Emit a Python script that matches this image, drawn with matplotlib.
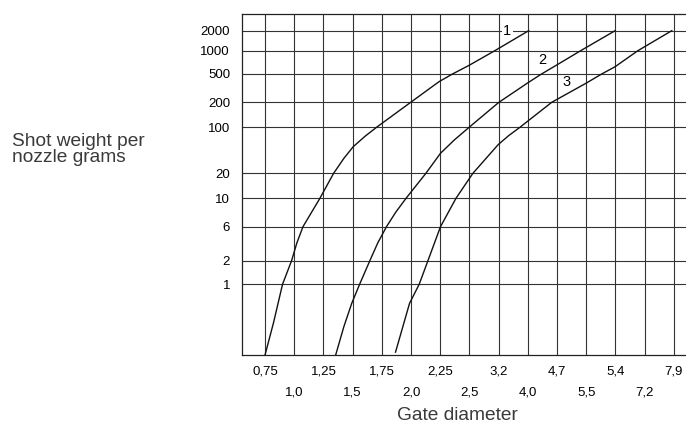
import numpy as np
import matplotlib
matplotlib.use("Agg")
import matplotlib.pyplot as plt
from matplotlib.ticker import FixedLocator, NullLocator

# ============================================================
# Datos
# ============================================================

# Diametro de compuerta (etiquetas del eje x, en orden de las columnas)
etiquetas_x = ["0,75", "1,0", "1,25", "1,5", "1,75", "2,0", "2,25", "2,5",
               "3,2", "4,0", "4,7", "5,5", "5,4", "7,2", "7,9"]

# Peso por boquilla (lineas horizontales)
valores_y = [1, 2, 6, 10, 20, 100, 200, 500, 1000, 2000]

# Curvas: posicion en la escala de diametro (columna) y gramos
curva1_x = [0.00, 0.29, 0.60, 0.91, 1.09, 1.30, 1.88, 2.35, 2.70, 3.02,
            3.43, 3.82, 4.99, 5.96, 6.42, 6.98, 7.87, 9.03]
curva1_y = [0.124, 0.32, 1, 2, 3.54, 6, 10, 20, 33.7, 50.7,
            73.3, 100, 200, 390, 500, 644, 1000, 2000]

curva2_x = [2.42, 2.70, 2.97, 3.24, 3.59, 3.86, 4.16, 4.48, 4.83, 5.51,
            6.01, 6.48, 6.99, 8.01, 9.01, 9.47, 9.99, 10.81, 11.99]
curva2_y = [0.124, 0.286, 0.57, 1, 2, 3.54, 6, 7.8, 10, 20,
            40.3, 64, 100, 200, 378, 500, 653, 1000, 2000]

curva3_x = [4.47, 4.95, 5.28, 5.58, 6.01, 6.54, 7.12, 7.99, 8.35, 8.73,
            9.82, 10.99, 11.53, 11.99, 12.77, 13.93]
curva3_y = [0.135, 0.57, 1, 2, 6, 10, 20, 54.8, 75, 100,
            200, 370, 500, 621, 1000, 2000]

# ============================================================
# Escala del eje y: el original es "casi" logaritmico,
# dibujado a mano, asi que se usa una escala por tramos
# ============================================================

log_nodos = np.log10([0.1, 1, 2, 6, 10, 20, 100, 200, 500, 1000, 2000, 10000])
altura_nodos = np.array([-7.3, 70.7, 94.3, 128.3, 156.7, 181.7, 227.7, 252.7, 281.0, 304.3, 324.3, 373.0])


def adelante(v):
    v = np.clip(np.asarray(v, dtype=float), 1e-3, None)
    return np.interp(np.log10(v), log_nodos, altura_nodos)


def inversa(h):
    return 10 ** np.interp(np.asarray(h, dtype=float), altura_nodos, log_nodos)


# ============================================================
# Grafico
# ============================================================

plt.rcParams["font.family"] = ["Liberation Sans", "DejaVu Sans"]

fig = plt.figure(figsize=(6.86, 4.32), dpi=100)
ax = fig.add_axes([242 / 686, 77 / 432, 444 / 686, 341 / 432])

ax.set_yscale("function", functions=(adelante, inversa))
ax.set_ylim(inversa(0), inversa(341))
ax.set_xlim(-0.788, 14.418)

for xs, ys in [(curva1_x, curva1_y), (curva2_x, curva2_y), (curva3_x, curva3_y)]:
    ax.plot(xs, ys, color="#111111", linewidth=1.0, zorder=3,
            solid_joinstyle="round")

# numeros de las curvas
caja = dict(facecolor="white", edgecolor="none", pad=1.0)
ax.text(8.29, 2000, "1", fontsize=10.5, ha="center", va="center", bbox=caja, zorder=4)
ax.text(9.50, 752, "2", fontsize=10.5, ha="center", va="center", zorder=4)
ax.text(10.31, 390, "3", fontsize=10.5, ha="center", va="center", zorder=4)

# ticks y
ax.yaxis.set_major_locator(FixedLocator(valores_y))
ax.yaxis.set_minor_locator(NullLocator())
ax.set_yticklabels([str(v) for v in valores_y])
ax.tick_params(axis="y", length=0, pad=8.6, labelsize=9.5)

# ticks x en dos filas: pares arriba, impares abajo
posiciones = np.arange(len(etiquetas_x))
ax.xaxis.set_major_locator(FixedLocator(posiciones[::2]))
ax.xaxis.set_minor_locator(FixedLocator(posiciones[1::2]))
ax.set_xticklabels(etiquetas_x[::2])
ax.set_xticklabels(etiquetas_x[1::2], minor=True)
ax.tick_params(axis="x", which="major", length=0, pad=7.5, labelsize=9.5)
ax.tick_params(axis="x", which="minor", length=0, pad=22.5, labelsize=9.5)

ax.grid(True, axis="x", which="both", color="#333333", linewidth=0.8)
ax.grid(True, axis="y", which="major", color="#333333", linewidth=0.8)
ax.set_axisbelow(True)

for lado in ["left", "top", "bottom"]:
    ax.spines[lado].set_color("#222222")
    ax.spines[lado].set_linewidth(0.9)
ax.spines["right"].set_visible(False)

# titulos de ejes
fig.text(11.7 / 686, 1 - 133 / 432, "Shot weight per\nnozzle grams", fontsize=13.8,
         color="#3a3a3a", ha="left", va="top", linespacing=0.9)
fig.text(457 / 686, 1 - 415 / 432, "Gate diameter", fontsize=13.8,
         color="#3a3a3a", ha="center", va="center")

fig.savefig("out.png", dpi=100)
